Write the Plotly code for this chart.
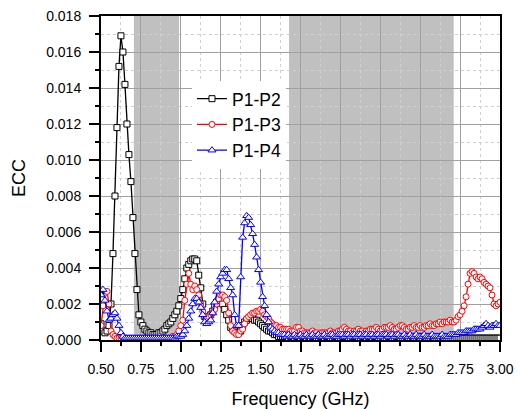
import numpy as np
import plotly.graph_objects as go

# Frequency grid (GHz), 0.0125 GHz step
freq = np.round(np.linspace(0.5, 3.0, 201), 4)

ecc_p1p2 = [
    0.0009, 0.0005, 0.0004, 0.0005, 0.0008, 0.0020, 0.0048, 0.0080,
    0.0118, 0.0152, 0.0169, 0.0160, 0.0142, 0.0120, 0.0103, 0.0088,
    0.0068, 0.0048, 0.0028, 0.0014, 0.0010, 0.0008, 0.0006, 0.0005,
    0.0004, 0.0004, 0.0003, 0.0003, 0.0003, 0.0004, 0.0004, 0.0005,
    0.0006, 0.0008, 0.0009, 0.0010, 0.0012, 0.0014, 0.0016, 0.0019,
    0.0023, 0.0028, 0.0034, 0.0040, 0.0042, 0.0044, 0.0045, 0.0045,
    0.0044, 0.0036, 0.0029, 0.0020, 0.0013, 0.0011, 0.0012, 0.0014,
    0.0016, 0.0019, 0.0021, 0.0022, 0.0022, 0.0020, 0.0017, 0.0014,
    0.0011, 0.0007, 0.0006, 0.0005, 0.0004, 0.0004, 0.0005, 0.0008,
    0.0010, 0.0011, 0.0012, 0.0012, 0.0012, 0.0011, 0.0011, 0.0010,
    0.0009, 0.0008, 0.0007, 0.0006, 0.0005, 0.0005, 0.0004, 0.0003,
    0.0003, 0.0002, 0.0002, 0.0002, 0.0002, 0.0002, 0.0001, 0.0002,
    0.0002, 0.0001, 0.0002, 0.0002, 0.0001, 0.0002, 0.0002, 0.0001,
    0.0002, 0.0001, 0.0002, 0.0002, 0.0001, 0.0001, 0.0002, 0.0002,
    0.0001, 0.0002, 0.0002, 0.0001, 0.0001, 0.0002, 0.0002, 0.0001,
    0.0001, 0.0002, 0.0002, 0.0002, 0.0001, 0.0001, 0.0002, 0.0002,
    0.0002, 0.0001, 0.0001, 0.0002, 0.0002, 0.0001, 0.0002, 0.0002,
    0.0001, 0.0002, 0.0002, 0.0001, 0.0001, 0.0002, 0.0001, 0.0001,
    0.0002, 0.0002, 0.0001, 0.0001, 0.0002, 0.0002, 0.0001, 0.0001,
    0.0001, 0.0002, 0.0001, 0.0001, 0.0002, 0.0001, 0.0001, 0.0002,
    0.0001, 0.0001, 0.0002, 0.0001, 0.0001, 0.0001, 0.0002, 0.0001,
    0.0001, 0.0001, 0.0001, 0.0002, 0.0001, 0.0001, 0.0001, 0.0001,
    0.0001, 0.0001, 0.0001, 0.0001, 0.0001, 0.0001, 0.0001, 0.0001,
    0.0001, 0.0001, 0.0001, 0.0001, 0.0001, 0.0001, 0.0001, 0.0001,
    0.0001, 0.0001, 0.0001, 0.0001, 0.0001, 0.0001, 0.0001, 0.0001,
    0.0001,
]

ecc_p1p3 = [
    0.0008, 0.0019, 0.0026, 0.0027, 0.0020, 0.0005, 0.0003, 0.0002,
    0.0001, 0.0001, 0.0001, 0.0001, 0.0001, 0.0001, 0.0001, 0.0001,
    0.0001, 0.0001, 0.0001, 0.0001, 0.0001, 0.0001, 0.0001, 0.0001,
    0.0001, 0.0001, 0.0001, 0.0001, 0.0001, 0.0001, 0.0001, 0.0001,
    0.0001, 0.0001, 0.0001, 0.0001, 0.0002, 0.0002, 0.0003, 0.0005,
    0.0008, 0.0011, 0.0022, 0.0031, 0.0037, 0.0031, 0.0028, 0.0030,
    0.0028, 0.0025, 0.0020, 0.0016, 0.0013, 0.0012, 0.0013, 0.0014,
    0.0015, 0.0017, 0.0020, 0.0023, 0.0025, 0.0025, 0.0024, 0.0022,
    0.0015, 0.0008, 0.0005, 0.0004, 0.0003, 0.0003, 0.0005, 0.0006,
    0.0009, 0.0012, 0.0013, 0.0014, 0.0015, 0.0015, 0.0016, 0.0016,
    0.0017, 0.0016, 0.0014, 0.0013, 0.0012, 0.0010, 0.0009, 0.0008,
    0.0008, 0.0007, 0.0007, 0.0006, 0.0006, 0.0006, 0.0006, 0.0005,
    0.0005, 0.0005, 0.0007, 0.0007, 0.0005, 0.0005, 0.0004, 0.0004,
    0.0004, 0.0004, 0.0005, 0.0004, 0.0004, 0.0003, 0.0004, 0.0004,
    0.0004, 0.0004, 0.0004, 0.0005, 0.0004, 0.0004, 0.0004, 0.0005,
    0.0005, 0.0006, 0.0007, 0.0006, 0.0005, 0.0005, 0.0004, 0.0005,
    0.0005, 0.0006, 0.0005, 0.0005, 0.0004, 0.0005, 0.0005, 0.0006,
    0.0006, 0.0006, 0.0007, 0.0006, 0.0005, 0.0006, 0.0007, 0.0007,
    0.0007, 0.0008, 0.0007, 0.0006, 0.0006, 0.0007, 0.0008, 0.0008,
    0.0007, 0.0006, 0.0006, 0.0007, 0.0007, 0.0008, 0.0007, 0.0007,
    0.0008, 0.0007, 0.0007, 0.0008, 0.0008, 0.0009, 0.0008, 0.0008,
    0.0009, 0.0009, 0.0010, 0.0009, 0.0010, 0.0010, 0.0010, 0.0011,
    0.0010, 0.0010, 0.0011, 0.0013, 0.0014, 0.0016, 0.0019, 0.0024,
    0.0031, 0.0037, 0.0038, 0.0037, 0.0035, 0.0034, 0.0035, 0.0034,
    0.0032, 0.0031, 0.0030, 0.0029, 0.0025, 0.0020, 0.0019, 0.0020,
    0.0021,
]

ecc_p1p4 = [
    0.0025, 0.0028, 0.0022, 0.0016, 0.0011, 0.0012, 0.0014, 0.0015,
    0.0012, 0.0008, 0.0004, 0.0002, 0.0001, 0.0001, 0.0001, 0.0001,
    0.0001, 0.0001, 0.0001, 0.0001, 0.0001, 0.0001, 0.0001, 0.0001,
    0.0001, 0.0001, 0.0001, 0.0001, 0.0001, 0.0001, 0.0001, 0.0001,
    0.0001, 0.0001, 0.0001, 0.0001, 0.0001, 0.0001, 0.0002, 0.0002,
    0.0002, 0.0003, 0.0005, 0.0008, 0.0012, 0.0016, 0.0020, 0.0023,
    0.0023, 0.0021, 0.0018, 0.0014, 0.0010, 0.0009, 0.0010, 0.0011,
    0.0015, 0.0021, 0.0027, 0.0031, 0.0035, 0.0037, 0.0039, 0.0039,
    0.0034, 0.0029, 0.0025, 0.0014, 0.0008, 0.0008, 0.0035, 0.0057,
    0.0065, 0.0069, 0.0068, 0.0064, 0.0059, 0.0053, 0.0046, 0.0039,
    0.0032, 0.0024, 0.0019, 0.0014, 0.0010, 0.0007, 0.0006, 0.0005,
    0.0004, 0.0004, 0.0003, 0.0003, 0.0003, 0.0002, 0.0003, 0.0002,
    0.0002, 0.0003, 0.0002, 0.0002, 0.0003, 0.0002, 0.0002, 0.0003,
    0.0002, 0.0002, 0.0003, 0.0002, 0.0002, 0.0003, 0.0002, 0.0002,
    0.0003, 0.0002, 0.0002, 0.0003, 0.0003, 0.0002, 0.0002, 0.0003,
    0.0003, 0.0003, 0.0002, 0.0003, 0.0003, 0.0002, 0.0003, 0.0003,
    0.0002, 0.0003, 0.0003, 0.0002, 0.0003, 0.0003, 0.0002, 0.0003,
    0.0003, 0.0002, 0.0003, 0.0003, 0.0002, 0.0003, 0.0003, 0.0003,
    0.0002, 0.0003, 0.0003, 0.0002, 0.0003, 0.0003, 0.0002, 0.0002,
    0.0003, 0.0002, 0.0002, 0.0003, 0.0002, 0.0002, 0.0003, 0.0002,
    0.0002, 0.0002, 0.0003, 0.0002, 0.0002, 0.0002, 0.0003, 0.0002,
    0.0002, 0.0002, 0.0002, 0.0003, 0.0002, 0.0002, 0.0002, 0.0003,
    0.0003, 0.0003, 0.0003, 0.0004, 0.0004, 0.0004, 0.0004, 0.0005,
    0.0005, 0.0005, 0.0005, 0.0006, 0.0006, 0.0006, 0.0006, 0.0007,
    0.0008, 0.0009, 0.0008, 0.0007, 0.0008, 0.0008, 0.0009, 0.0008,
    0.0008,
]

series_names = ["P1-P2", "P1-P3", "P1-P4"]
series_colors = ["#000000", "#ff0000", "#0000ff"]
series_symbols = ["square", "circle", "triangle-up"]
series_sizes = [6, 6, 7]

# Shaded frequency bands (GHz)
band_starts = [0.706, 1.678]
band_ends = [0.989, 2.71]

font_family = "Liberation Sans, Arial, sans-serif"

fig = go.Figure()
for name, vals, col, sym, sz in zip(series_names, [ecc_p1p2, ecc_p1p3, ecc_p1p4],
                                    series_colors, series_symbols, series_sizes):
    fig.add_trace(go.Scatter(
        x=freq, y=vals, name=name, mode="lines+markers",
        line=dict(color=col, width=1.3),
        marker=dict(symbol=sym, size=sz, color="white",
                    line=dict(color=col, width=1)),
    ))

for x0, x1 in zip(band_starts, band_ends):
    fig.add_shape(type="rect", xref="x", yref="paper", x0=x0, x1=x1, y0=0, y1=1,
                  fillcolor="#c0c0c0", line_width=0, layer="below")

axis_common = dict(
    showline=True, linecolor="black", linewidth=2, mirror=True,
    ticks="outside", ticklen=10, tickwidth=2, tickcolor="black",
    showgrid=True, gridcolor="#a0a0a0", gridwidth=1,
    zeroline=False, automargin=False,
    tickfont=dict(family=font_family, size=14, color="black"),
)

fig.update_xaxes(
    range=[0.5, 3.0], tick0=0.5, dtick=0.25, tickformat=".2f",
    ticklabelstandoff=5,
    title=dict(text="Frequency (GHz)", font=dict(family=font_family, size=18, color="black"),
               standoff=18),
    minor=dict(dtick=0.125, ticks="outside", ticklen=4, tickwidth=1.5, tickcolor="black",
               showgrid=True, gridcolor="#d0d0d0", griddash="dot", gridwidth=1),
    **axis_common,
)
fig.update_yaxes(
    range=[0, 0.018], tick0=0, dtick=0.002, tickformat=".3f",
    ticklabelstandoff=5,
    title=dict(text="ECC", font=dict(family=font_family, size=18, color="black"),
               standoff=16),
    minor=dict(dtick=0.001, ticks="outside", ticklen=4, tickwidth=1.5, tickcolor="black",
               showgrid=True, gridcolor="#d0d0d0", griddash="dot", gridwidth=1),
    **axis_common,
)

fig.update_layout(
    width=521, height=409,
    margin=dict(l=101, r=21, t=16, b=69),
    paper_bgcolor="white", plot_bgcolor="white",
    font=dict(family=font_family, size=14, color="black"),
    legend=dict(x=0.228, y=0.80, xanchor="left", yanchor="top",
                bgcolor="white", borderwidth=0,
                font=dict(family=font_family, size=17.5, color="black"),
                tracegroupgap=0, itemwidth=30),
)

fig.write_html("out.html")
